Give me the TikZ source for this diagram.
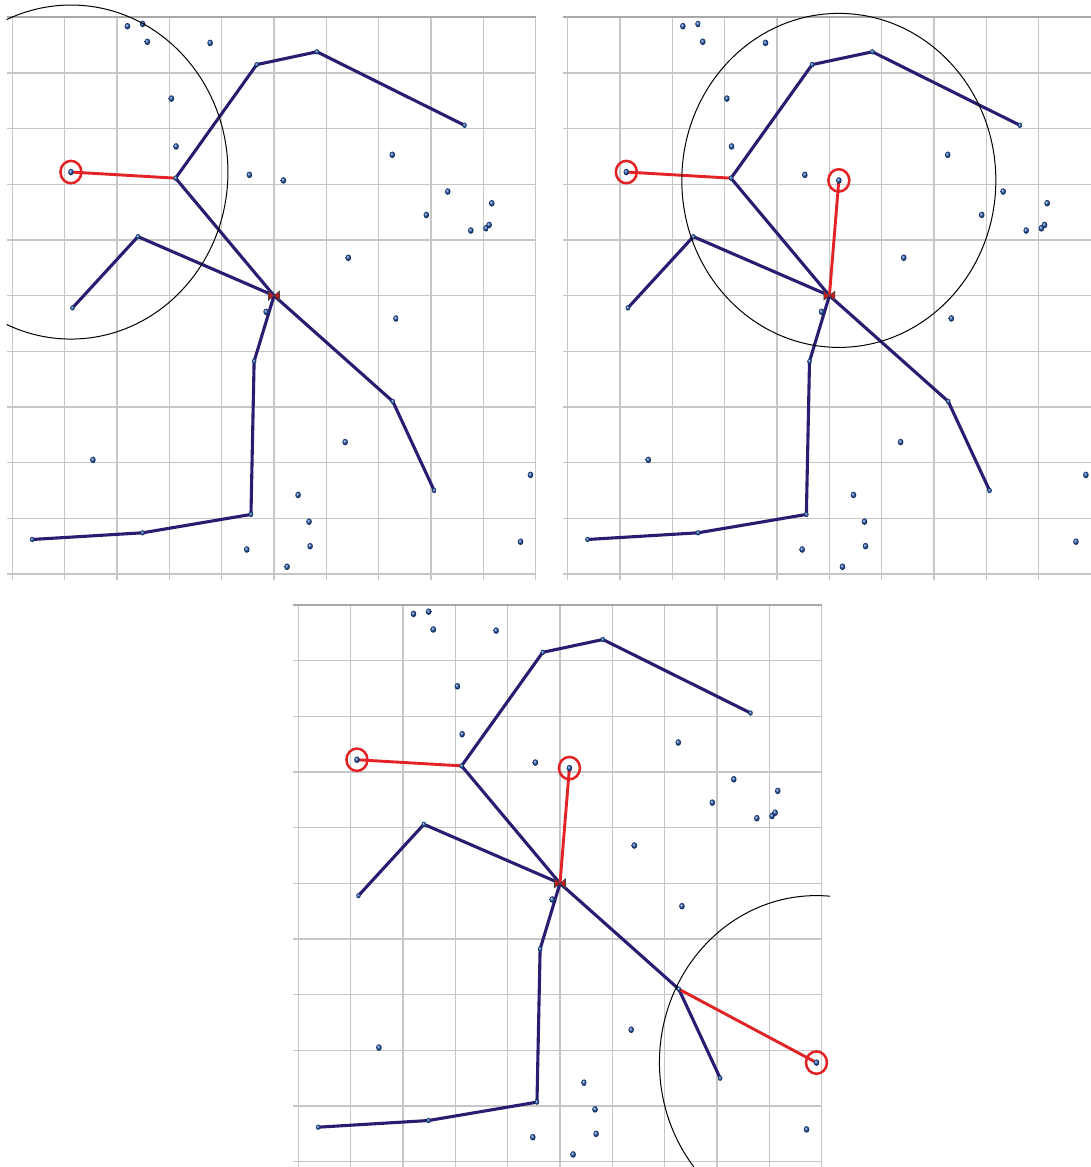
\documentclass[tikz,border=0pt]{standalone}
\usepackage{tikz}
\usetikzlibrary{calc}

\definecolor{treeblue}{RGB}{42,28,112}
\definecolor{linkred}{RGB}{226,34,36}
\definecolor{dotblue}{RGB}{30,80,165}
\definecolor{gridgrey}{RGB}{198,198,198}

\begin{document}
\begin{tikzpicture}[
    gridline/.style={draw=gridgrey, line width=1.2pt},
    frameline/.style={draw=gridgrey!85!black, line width=1.8pt},
    branch/.style={draw=treeblue, line width=3.1pt, line join=round, line cap=round},
    link/.style={draw=linkred, line width=2.9pt, line cap=round},
    pick/.style={draw=linkred, line width=2.5pt},
    reach/.style={draw=black, line width=1pt},
    sample/.style={ball color=dotblue},
    marker/.style={fill=linkred!85!black, draw=black!75, line width=0.6pt}
]
\useasboundingbox (0,0) rectangle (1090pt,1167pt);

% ================= THREE PANELS =================
\foreach \p/\sx/\sy/\n in {a/12.3/593/1, b/567.7/593/2, c/298.3/5.3/3} {
\begin{scope}[shift={(\sx pt,\sy pt)}, x=52.34pt, y=55.67pt]

  % grid and axes
  \foreach \k in {0,...,10} {
    \draw[gridline] ([yshift=-6pt]\k,0) -- (\k,10);
    \draw[gridline] ([xshift=-5pt]0,\k) -- (10,\k);
  }
  \draw[frameline] ([xshift=-5pt]0,10) -- (10,10);

  % tree points
  \coordinate (\p-R) at (5.00,5.00);
  \coordinate (\p-A) at (3.12,7.11);
  \coordinate (\p-B) at (4.67,9.15);
  \coordinate (\p-C) at (5.82,9.38);
  \coordinate (\p-D) at (8.64,8.06);
  \coordinate (\p-E) at (2.40,6.06);
  \coordinate (\p-F) at (1.15,4.78);
  \coordinate (\p-G) at (7.27,3.10);
  \coordinate (\p-H) at (8.06,1.50);
  \coordinate (\p-I) at (4.62,3.82);
  \coordinate (\p-J) at (4.56,1.07);
  \coordinate (\p-K) at (2.49,0.74);
  \coordinate (\p-L) at (0.38,0.62);
  \coordinate (\p-S1) at (1.12,7.22);
  \coordinate (\p-S2) at (5.18,7.07);
  \coordinate (\p-S3) at (9.90,1.78);

  % tree branches
  \draw[branch] (\p-L) -- (\p-K) -- (\p-J) -- (\p-I) -- (\p-R) -- (\p-G) -- (\p-H);
  \draw[branch] (\p-F) -- (\p-E) -- (\p-R) -- (\p-A) -- (\p-B) -- (\p-C) -- (\p-D);

  % new links
  \draw[link] (\p-A) -- (\p-S1);
  \ifnum\n>1 \draw[link] (\p-R) -- (\p-S2); \fi
  \ifnum\n>2 \draw[link] (\p-G) -- (\p-S3); \fi

  % sample points
  \foreach \dx/\dy in {2.20/9.84, 2.49/9.88, 2.58/9.56, 3.78/9.54, 3.04/8.54,
      3.13/7.68, 4.53/7.17, 7.26/7.53, 8.32/6.87, 9.16/6.66, 7.91/6.45,
      8.76/6.17, 9.05/6.21, 9.11/6.27, 6.42/5.68, 4.85/4.71, 7.33/4.59,
      6.36/2.37, 1.54/2.05, 5.46/1.42, 5.67/0.94, 5.69/0.50, 4.48/0.44,
      5.25/0.13, 9.71/0.58, 5.18/7.07, 9.90/1.78, 1.12/7.22}
    \shade[sample] (\dx,\dy) ellipse [x radius=2.8pt, y radius=3.3pt];
  \foreach \q in {A,B,C,D,E,F,G,H,I,J,K,L}
    \shade[sample] (\p-\q) ellipse [x radius=2.3pt, y radius=2.7pt];

  % picked samples
  \draw[pick] (\p-S1) ellipse [x radius=10.5pt, y radius=11.2pt];
  \ifnum\n>1 \draw[pick] (\p-S2) ellipse [x radius=10.5pt, y radius=11.2pt]; \fi
  \ifnum\n>2 \draw[pick] (\p-S3) ellipse [x radius=10.5pt, y radius=11.2pt]; \fi

  % root marker
  \draw[marker] (\p-R) -- ([shift={(-5.5pt,4.5pt)}]\p-R) -- ([shift={(-5.5pt,-4.5pt)}]\p-R) -- cycle;
  \draw[marker] (\p-R) -- ([shift={(5.5pt,4.5pt)}]\p-R) -- ([shift={(5.5pt,-4.5pt)}]\p-R) -- cycle;

  % search radius
  \begin{scope}
    \clip (-0.107,-0.5) rectangle (10.16,10.6);
    \draw[reach] (\p-S\n) circle [radius=3];
  \end{scope}

\end{scope}
}

\end{tikzpicture}
\end{document}
